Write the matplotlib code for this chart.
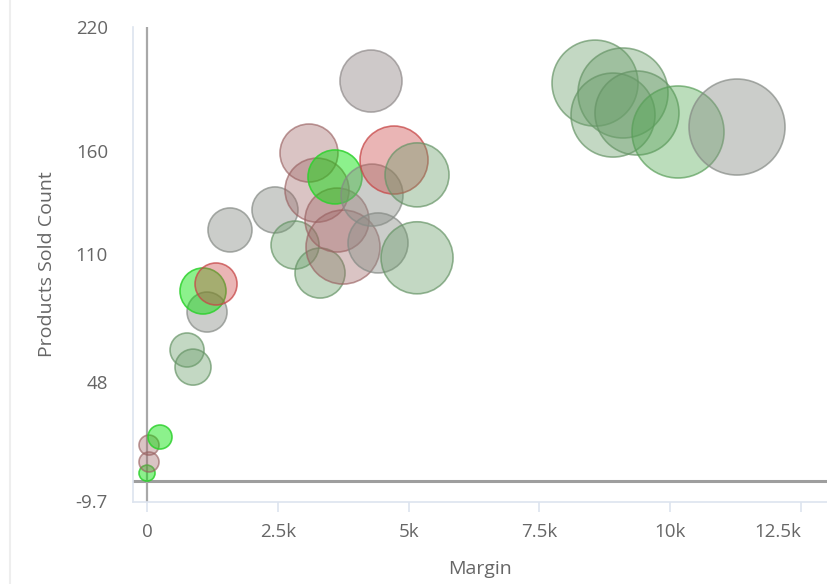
import matplotlib.pyplot as plt
from matplotlib.lines import Line2D

plt.rcParams['font.family'] = ['Open Sans', 'DejaVu Sans']

# Bubble data: margin ($), products sold, revenue (bubble area) and trend group
margin = [0, 38, 38, 248, 765, 879, 1147, 1070, 1319, 1586,
          2446, 2829, 3307, 3096, 3249, 3631, 3746, 3593, 4300, 4415,
          4281, 4721, 5161, 5161, 8563, 9098, 8907, 9365, 10149, 11277]
sold_count = [3.7, 9.1, 17.3, 21.2, 63.4, 55.1, 81.8, 92.0, 95.4, 121.6,
              131.3, 114.3, 100.7, 158.9, 140.9, 126.4, 113.3, 147.3, 138.5, 115.3,
              193.8, 155.5, 148.3, 108.1, 192.8, 188.0, 177.3, 178.3, 169.1, 171.5]
revenue = [640, 1000, 1000, 1440, 2890, 3240, 4000, 5290, 4410, 4840,
           5290, 5760, 6250, 8410, 10240, 10240, 13690, 7290, 9610, 9000,
           9610, 11560, 10240, 12960, 18490, 20250, 17640, 17640, 21160, 23040]
trend = ['up', 'down', 'down', 'up', 'flat_up', 'flat_up', 'flat', 'up', 'down_strong', 'flat',
         'flat', 'flat_up', 'flat_up', 'down', 'down', 'down', 'down', 'up', 'flat', 'flat',
         'flat_pink', 'down_strong', 'flat_up', 'flat_up', 'flat_up', 'flat_up', 'flat_up', 'flat_up', 'flat_up2', 'flat']

x_ticks = [0, 2500, 5000, 7500, 10000, 12500]
x_tick_labels = ['0', '2.5k', '5k', '7.5k', '10k', '12.5k']
y_ticks = [-9.7, 48, 110, 160, 220]
y_tick_labels = ['-9.7', '48', '110', '160', '220']

palette = {
    'up': ((0.0, 0.88, 0.0, 0.45), (0.18, 0.82, 0.18, 0.85)),
    'flat_up': ((0.42, 0.62, 0.42, 0.40), (0.40, 0.58, 0.40, 0.70)),
    'flat_up2': ((0.30, 0.65, 0.30, 0.38), (0.35, 0.62, 0.35, 0.70)),
    'flat': ((0.55, 0.57, 0.54, 0.45), (0.52, 0.54, 0.52, 0.70)),
    'flat_pink': ((0.62, 0.58, 0.58, 0.50), (0.56, 0.54, 0.54, 0.70)),
    'down': ((0.62, 0.40, 0.40, 0.38), (0.60, 0.38, 0.38, 0.65)),
    'down_strong': ((0.80, 0.28, 0.28, 0.40), (0.78, 0.28, 0.28, 0.75)),
}

fig = plt.figure(figsize=(8.28, 5.84), dpi=100)
ax = fig.add_axes([133 / 828, 1 - 502 / 584, 695 / 828, 475 / 584])

faces = [palette[t][0] for t in trend]
edges = [palette[t][1] for t in trend]
sizes = [r * 0.2074 for r in revenue]
ax.scatter(margin, sold_count, s=sizes, c=faces, edgecolors=edges, linewidths=1.2, zorder=3)

# zero lines
ax.axhline(0, color='#9e9e9e', lw=2.2, zorder=2)
ax.axvline(0, color='#a8a8a8', lw=1.6, zorder=2)

ax.set_xlim(-268, 13016)
ax.set_ylim(-10.3, 220)

ax.set_xticks(x_ticks)
ax.set_xticklabels(x_tick_labels)
ax.get_xticklabels()[-1].set_horizontalalignment('right')
ax.set_yticks(y_ticks)
ax.set_yticklabels(y_tick_labels)

for s in ['top', 'right']:
    ax.spines[s].set_visible(False)
for s in ['left', 'bottom']:
    ax.spines[s].set_color('#dde4ef')
    ax.spines[s].set_linewidth(1.2)

ax.tick_params(axis='x', colors='#dde4ef', length=7, width=1.2, labelcolor='#666666',
               labelsize=13.5, pad=8)
ax.tick_params(axis='y', length=0, labelcolor='#666666', labelsize=13.5, pad=18)

ax.set_xlabel('Margin', color='#666666', fontsize=14, labelpad=14)
ax.set_ylabel('Products Sold Count', color='#666666', fontsize=14, labelpad=14)

# faint page border on the left
fig.add_artist(Line2D([10 / 828, 10 / 828], [0, 1], color='#eeeeee', lw=1.5))

fig.savefig('out.png', dpi=100)
